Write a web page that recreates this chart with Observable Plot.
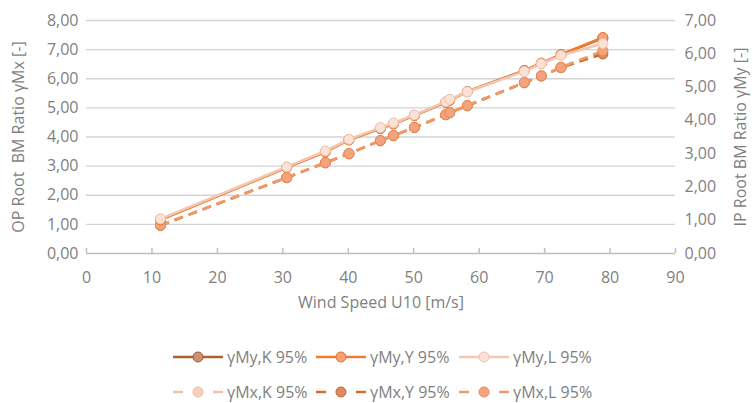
<!DOCTYPE html>
<html>
<head>
<meta charset="utf-8">
<script src="https://cdn.jsdelivr.net/npm/d3@7"></script>
<script src="https://cdn.jsdelivr.net/npm/@observablehq/plot@0.6"></script>
<style>
  body { margin: 0; background: #fff; }
  #wrap { position: relative; width: 753px; height: 403px; font-family: "Open Sans", sans-serif; color: #7f7f7f; }
  .leg { position: absolute; display: flex; align-items: center; font-size: 16px; white-space: nowrap; height: 20px; }
  .leg svg { margin-right: 4px; }
</style>
</head>
<body>
<div id="wrap"></div>
<script>
// ---- data ----
const windSpeed = [11.3, 30.6, 36.5, 40.1, 44.9, 46.9, 50.1, 54.9, 55.5, 58.2, 66.9, 69.5, 72.5, 78.9];
// IP ratios (right axis, 0..7)
const gMyK = [1.02, 2.59, 3.06, 3.42, 3.76, 3.90, 4.15, 4.55, 4.61, 4.87, 5.49, 5.71, 5.97, 6.47];
const gMyY = [1.01, 2.58, 3.05, 3.41, 3.75, 3.89, 4.14, 4.54, 4.60, 4.86, 5.50, 5.72, 5.98, 6.49];
const gMyL = [1.04, 2.60, 3.08, 3.43, 3.78, 3.92, 4.16, 4.56, 4.63, 4.86, 5.47, 5.70, 5.95, 6.31];
// OP ratios (left axis, 0..8)
const gMxK = [0.98, 2.62, 3.13, 3.44, 3.89, 4.06, 4.34, 4.78, 4.85, 5.09, 5.88, 6.11, 6.40, 6.92];
const gMxY = [0.96, 2.60, 3.11, 3.42, 3.87, 4.04, 4.32, 4.76, 4.83, 5.07, 5.86, 6.09, 6.38, 6.85];
const gMxL = [0.97, 2.61, 3.12, 3.43, 3.88, 4.05, 4.33, 4.77, 4.84, 5.08, 5.87, 6.10, 6.39, 6.96];

const xTicks = [0, 10, 20, 30, 40, 50, 60, 70, 80, 90];
const leftTicks = [0, 1, 2, 3, 4, 5, 6, 7, 8];
const rightTicks = [0, 1, 2, 3, 4, 5, 6, 7];
const leftMax = 8, rightMax = 7;

const xLabel = "Wind Speed U10 [m/s]";
const leftLabel = "OP Root  BM Ratio γMx [-]";
const rightLabel = "IP Root BM Ratio γMy [-]";

const series = [
  {name: "γMx,K 95%", values: gMxK, axis: "left",  dash: true,  line: "#F5BFA6", fill: "#F8D0BF", stroke: "#F2B89E"},
  {name: "γMx,Y 95%", values: gMxY, axis: "left",  dash: true,  line: "#D26B2E", fill: "#DC8A60", stroke: "#C8642C"},
  {name: "γMx,L 95%", values: gMxL, axis: "left",  dash: true,  line: "#F09A68", fill: "#F3A47C", stroke: "#EB8A58"},
  {name: "γMy,K 95%", values: gMyK, axis: "right", dash: false, line: "#B3602D", fill: "#C9917A", stroke: "#A9582A"},
  {name: "γMy,Y 95%", values: gMyY, axis: "right", dash: false, line: "#ED7D31", fill: "#F4A27A", stroke: "#E4722C"},
  {name: "γMy,L 95%", values: gMyL, axis: "right", dash: false, line: "#F6C6B0", fill: "#FBE2D7", stroke: "#F2BFA9"}
];

const fmt = v => v.toFixed(2).replace(".", ",");

const marks = [
  Plot.gridY(leftTicks.slice(1), {stroke: "#d4d4d4", strokeOpacity: 1, strokeWidth: 1.3}),
  Plot.ruleY([0], {stroke: "#bfbfbf", strokeWidth: 1.5}),
  Plot.tickX(xTicks, {x: d => d, stroke: "#bfbfbf", strokeWidth: 1.5, insetTop: 228}),
  Plot.axisX({ticks: xTicks, tickSize: 0, tickPadding: 18, label: null, tickFormat: d => String(d), fill: "#7f7f7f"}),
  Plot.axisY({anchor: "left", ticks: leftTicks, tickSize: 0, tickPadding: 8, label: null, tickFormat: fmt, fill: "#7f7f7f"}),
  Plot.axisY({anchor: "right", ticks: rightTicks.map(k => k * leftMax / rightMax), tickSize: 0, tickPadding: 9, label: null,
              tickFormat: d => fmt(d * rightMax / leftMax), fill: "#7f7f7f"}),
  Plot.text([xLabel], {frameAnchor: "bottom", dy: 54, text: d => d, fill: "#7f7f7f", fontSize: 16, textAnchor: "middle"}),
  Plot.text([leftLabel], {frameAnchor: "left", dx: -68, rotate: -90, text: d => d, fill: "#7f7f7f", fontSize: 16, textAnchor: "middle"}),
  Plot.text([rightLabel], {frameAnchor: "right", dx: 65, rotate: -90, text: d => d, fill: "#7f7f7f", fontSize: 16, textAnchor: "middle"})
];

for (const s of series) {
  const k = s.axis === "right" ? leftMax / rightMax : 1;
  const data = windSpeed.map((x, i) => ({x, y: s.values[i] * k}));
  marks.push(Plot.line(data, {x: "x", y: "y", stroke: s.line, strokeWidth: 2.5,
    strokeDasharray: s.dash ? "9,6" : null, strokeLinecap: s.dash ? "butt" : "round"}));
  marks.push(Plot.dot(data, {x: "x", y: "y", r: 5, fill: s.fill, stroke: s.stroke, strokeWidth: 1}));
}

const chart = Plot.plot({
  width: 753,
  height: 330,
  marginLeft: 86,
  marginRight: 78,
  marginTop: 20,
  marginBottom: 77,
  x: {domain: [0, 90]},
  y: {domain: [0, leftMax]},
  style: {fontFamily: "Open Sans, sans-serif", fontSize: "16px", color: "#7f7f7f", background: "#fff"},
  marks
});
const wrap = document.getElementById("wrap");
wrap.appendChild(chart);

// ---- legend ----
const legendOrder = ["γMy,K 95%", "γMy,Y 95%", "γMy,L 95%", "γMx,K 95%", "γMx,Y 95%", "γMx,L 95%"];
const cols = [173, 316, 459];
const rows = [357, 392];
legendOrder.forEach((name, i) => {
  const s = series.find(d => d.name === name);
  const div = document.createElement("div");
  div.className = "leg";
  div.style.left = cols[i % 3] + "px";
  div.style.top = (rows[Math.floor(i / 3)] - 10) + "px";
  const line = s.dash
    ? `<line x1="0" x2="10" y1="10" y2="10" stroke="${s.line}" stroke-width="2.5"/><line x1="40" x2="50" y1="10" y2="10" stroke="${s.line}" stroke-width="2.5"/>`
    : `<line x1="0" x2="50" y1="10" y2="10" stroke="${s.line}" stroke-width="2.5"/>`;
  div.innerHTML = `<svg width="50" height="20">${line}<circle cx="25" cy="10" r="5" fill="${s.fill}" stroke="${s.stroke}" stroke-width="1"/></svg><span>${name}</span>`;
  wrap.appendChild(div);
});
</script>
</body>
</html>
